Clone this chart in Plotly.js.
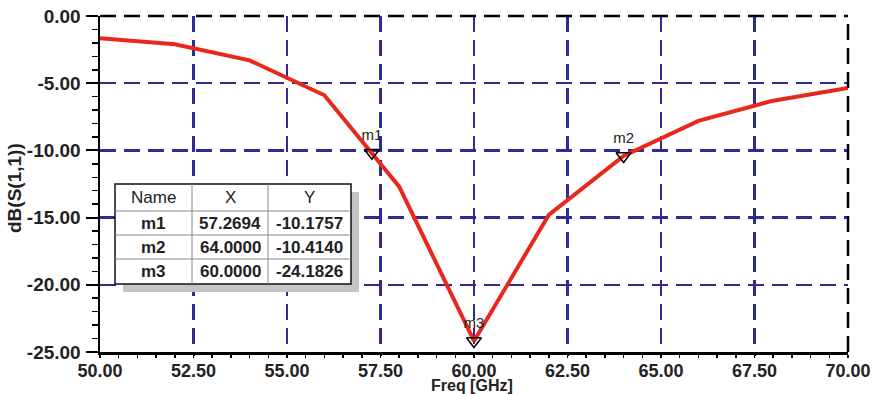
<!DOCTYPE html>
<html>
<head>
<meta charset="utf-8">
<script src="https://cdn.plot.ly/plotly-3.0.1.min.js"></script>
<style>html,body{margin:0;padding:0;background:#fff;}#chart{width:880px;height:394px;}</style>
</head>
<body>
<div id="chart"></div>
<script>
// Data
const freq = [50, 52, 54, 56, 58, 60, 62, 64, 66, 68, 70];
const s11 = [-1.65, -2.1, -3.3, -5.9, -12.7, -24.18, -14.8, -10.41, -7.8, -6.3, -5.35];
const markerNames = ['m1', 'm2', 'm3'];
const markerX = [57.2694, 64.0, 60.0];
const markerY = [-10.1757, -10.414, -24.1826];
const xTicks = [50, 52.5, 55, 57.5, 60, 62.5, 65, 67.5, 70];
const yTicks = [0, -5, -10, -15, -20, -25];
const tableHeader = ['Name', 'X', 'Y'];

// Layout geometry (pixels)
const W = 880, H = 394;
const M = {l: 100, r: 32, t: 16, b: 42};
const pw = W - M.l - M.r, ph = H - M.t - M.b;
const px = p => (p - M.l) / pw;
const py = p => (H - M.b - p) / ph;

const FONT = 'Arial, "Liberation Sans", sans-serif';
const gridColor = '#2e2a96';
const DASH = '16px,8px';

const shapes = [];
const annotations = [];

// black dashed top and right border
shapes.push({type: 'line', xref: 'paper', yref: 'paper', x0: 0, x1: 1, y0: 1, y1: 1,
  line: {color: '#000', width: 2.5, dash: DASH}, layer: 'above'});
shapes.push({type: 'line', xref: 'paper', yref: 'paper', x0: 1, x1: 1, y0: 0, y1: 1,
  line: {color: '#000', width: 2.5, dash: DASH}, layer: 'above'});

// Marker table
const colX = [115, 192, 268, 351];
const rowY = [184, 211, 235, 259, 284];
shapes.push({type: 'rect', xref: 'paper', yref: 'paper', x0: px(colX[0] + 8), x1: px(colX[3] + 8), y0: py(rowY[4] + 8), y1: py(rowY[0] + 8),
  fillcolor: '#c4c4c4', line: {width: 0}, layer: 'above'});
shapes.push({type: 'rect', xref: 'paper', yref: 'paper', x0: px(colX[0]), x1: px(colX[3]), y0: py(rowY[4]), y1: py(rowY[0]),
  fillcolor: '#ffffff', line: {color: '#111', width: 1.5}, layer: 'above'});
for (let i = 1; i < 4; i++) {
  shapes.push({type: 'line', xref: 'paper', yref: 'paper', x0: px(colX[0]), x1: px(colX[3]), y0: py(rowY[i]), y1: py(rowY[i]),
    line: {color: '#888', width: 1}, layer: 'above'});
}
for (let j = 1; j < 3; j++) {
  shapes.push({type: 'line', xref: 'paper', yref: 'paper', x0: px(colX[j]), x1: px(colX[j]), y0: py(rowY[4]), y1: py(rowY[0]),
    line: {color: '#888', width: 1}, layer: 'above'});
}
const cellText = (txt, col, row, bold) => {
  annotations.push({xref: 'paper', yref: 'paper', x: px((colX[col] + colX[col + 1]) / 2), y: py((rowY[row] + rowY[row + 1]) / 2),
    text: txt, showarrow: false, xanchor: 'center', yanchor: 'middle',
    font: {family: FONT, size: 17, color: '#222', weight: bold ? 'bold' : 'normal'}});
};
tableHeader.forEach((h, j) => cellText(h, j, 0, false));
markerNames.forEach((n, i) => {
  cellText(n, 0, i + 1, true);
  cellText(markerX[i].toFixed(4), 1, i + 1, true);
  cellText(markerY[i].toFixed(4), 2, i + 1, true);
});

// Axis titles
annotations.push({xref: 'paper', yref: 'paper', x: px(14), y: py(188), text: 'dB(S(1,1))', textangle: -90,
  showarrow: false, xanchor: 'center', yanchor: 'middle',
  font: {family: FONT, size: 19, color: '#222', weight: 'bold'}});
annotations.push({xref: 'paper', yref: 'paper', x: px(472), y: py(395), text: 'Freq [GHz]',
  showarrow: false, xanchor: 'center', yanchor: 'bottom', borderpad: 0,
  font: {family: FONT, size: 16, color: '#222', weight: 'bold'}});

const traces = [
  {x: freq, y: s11, type: 'scatter', mode: 'lines', line: {color: '#e8281c', width: 4}, hoverinfo: 'skip'},
  {x: markerX, y: markerY, type: 'scatter', mode: 'markers+text', text: markerNames, textposition: 'top center',
    textfont: {family: FONT, size: 15, color: '#222'},
    marker: {symbol: 'triangle-down-open', size: 13, color: '#000', line: {width: 1.5, color: '#000'}}}
];

const layout = {
  width: W, height: H,
  margin: M,
  paper_bgcolor: '#fff', plot_bgcolor: '#fff',
  showlegend: false,
  font: {family: FONT, size: 18, color: '#222'},
  xaxis: {
    range: [50, 70], tickmode: 'array', tickvals: xTicks, ticktext: xTicks.map(v => v.toFixed(2)),
    showline: true, linecolor: '#000', linewidth: 2.5,
    ticks: 'outside', tickcolor: '#000', tickwidth: 2, ticklen: 1, ticklabelstandoff: 0,
    showgrid: true, gridcolor: gridColor, gridwidth: 2.5, griddash: DASH,
    zeroline: false, fixedrange: true,
    tickfont: {family: FONT, size: 18, color: '#222', weight: 'bold'},
    minor: {dtick: 0.5, tick0: 50, ticks: 'outside', ticklen: 3, tickcolor: '#000', tickwidth: 1.5, showgrid: false}
  },
  yaxis: {
    range: [-25, 0], tickmode: 'array', tickvals: yTicks, ticktext: yTicks.map(v => v.toFixed(2)),
    showline: true, linecolor: '#000', linewidth: 2.5,
    ticks: 'outside', tickcolor: '#000', tickwidth: 2, ticklen: 12, ticklabelstandoff: 1,
    showgrid: true, gridcolor: gridColor, gridwidth: 2.5, griddash: DASH,
    zeroline: false, fixedrange: true,
    tickfont: {family: FONT, size: 19, color: '#222', weight: 'bold'},
    minor: {dtick: 1, ticks: 'outside', ticklen: 6, tickcolor: '#000', tickwidth: 1.5, showgrid: false}
  },
  shapes: shapes,
  annotations: annotations
};

Plotly.newPlot('chart', traces, layout, {displayModeBar: false, staticPlot: true});
</script>
</body>
</html>
